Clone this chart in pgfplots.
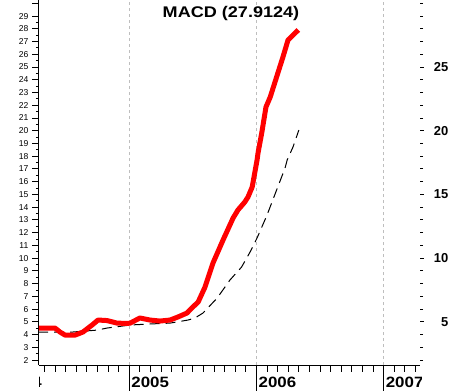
\documentclass[border=0pt]{standalone}
\usepackage{pgfplots}
\pgfplotsset{compat=1.18}
\usepackage{fontspec}
\setmainfont{Liberation Sans}
\definecolor{gridgray}{RGB}{190,190,190}
\begin{document}
\begin{tikzpicture}[x=1bp,y=1bp]
\path[use as bounding box] (-39,-26) rectangle (421,365);
\begin{axis}[at={(0,0)}, anchor=south west, scale only axis,
  width=381bp, height=365bp,
  xmin=3.49, xmax=39.43, ymin=1.61, ymax=30.26,
  axis x line*=bottom, axis y line*=left,
  axis line style={-, line width=1bp, black},
  x axis line style={-}, y axis line style={-},
  xtick={4,...,39}, xticklabels={},
  ytick={2,...,29}, extra y ticks={30}, extra y tick labels={},
  minor y tick num=1,
  tick align=outside, major tick length=6.5bp, minor tick length=3bp,
  every tick/.style={black, line width=0.9bp},
  /pgf/number format/assume math mode=true,
  yticklabel style={font=\fontsize{8.6}{9}\selectfont, inner sep=0pt, xshift=-4bp},
]
\draw[gridgray, line width=0.9bp, dash pattern=on 3bp off 3bp] (axis cs:12,1.61) -- (axis cs:12,30.26);
\draw[gridgray, line width=0.9bp, dash pattern=on 3bp off 3bp] (axis cs:24,1.61) -- (axis cs:24,30.26);
\draw[gridgray, line width=0.9bp, dash pattern=on 3bp off 3bp] (axis cs:36,1.61) -- (axis cs:36,30.26);
\addplot[black, line width=1bp, dash pattern=on 10bp off 6bp] coordinates {
(3.4,4.20)(6.7,4.20)(8.96,4.35)(9.9,4.51)(12.1,4.75)(13.96,4.83)(15.85,4.90)
(17.55,5.14)(18.2,5.30)(18.96,5.69)(20.3,6.87)(21.5,8.28)(22.6,9.30)(23.4,10.48)
(24.06,11.58)(25.0,13.38)(25.9,15.34)(26.7,17.07)(26.9,17.70)(27.45,18.72)(28.0,20.05)};
\addplot[red, line width=5bp, line join=round] coordinates {
(3.4,4.51)(5.0,4.51)(5.47,4.20)(5.94,3.96)(6.9,3.96)(7.64,4.20)(8.5,4.75)(9.06,5.14)
(9.9,5.10)(10.85,4.90)(11.8,4.87)(12.1,4.90)(13.0,5.30)(13.96,5.14)(14.9,5.06)
(15.85,5.14)(16.6,5.38)(17.45,5.69)(17.9,6.08)(18.5,6.55)(19.15,7.73)(19.9,9.61)
(20.85,11.42)(21.8,13.15)(22.26,13.78)(22.9,14.40)(23.2,14.79)(23.6,15.58)
(24.06,17.70)(24.15,18.25)(24.5,19.82)(24.9,21.86)(25.3,22.64)(25.9,24.21)
(26.5,25.78)(26.98,27.12)(27.95,27.91)};
\coordinate (y2004) at (axis cs:0,1.61);
\coordinate (y2005) at (axis cs:12,1.61);
\coordinate (y2006) at (axis cs:24,1.61);
\coordinate (y2007) at (axis cs:36,1.61);
\end{axis}
\begin{axis}[at={(0,0)}, anchor=south west, scale only axis,
  width=381bp, height=365bp,
  xmin=3.49, xmax=39.43, ymin=1.61, ymax=30.26,
  axis x line=none, axis y line*=right,
  y axis line style={draw=none},
  ytick={5,10,...,25}, minor ytick={2,...,30},
  tick align=outside, major tick length=3.5bp, minor tick length=3bp,
  every tick/.style={black, line width=0.9bp},
  /pgf/number format/assume math mode=true,
  yticklabel style={font=\bfseries\fontsize{13}{13}\selectfont, anchor=east, inner sep=0pt, xshift=25bp},
]
\end{axis}
\foreach \c in {y2005,y2006,y2007} \draw[black, line width=0.9bp] (\c) -- ++(0,-26);
\begin{scope}
\clip (0,-26) rectangle (382,0);
\foreach \c/\t in {y2004/2004,y2005/2005,y2006/2006,y2007/2007}
  \node[anchor=base west, inner sep=0pt, font=\bfseries\fontsize{15}{15}\selectfont] at ([xshift=2bp, yshift=-22bp]\c) {\scalebox{1.13}[1]{\t}};
\end{scope}
\node[font=\bfseries\fontsize{15.5}{16}\selectfont] at (192,351) {\scalebox{1.17}[1]{MACD (27.9124)}};
\end{tikzpicture}
\end{document}
